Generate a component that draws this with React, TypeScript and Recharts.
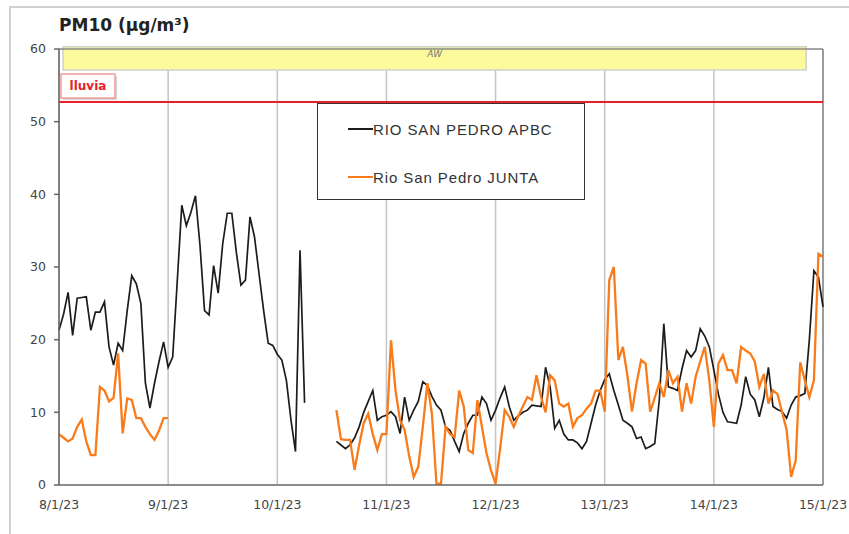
import React from "react";
import { LineChart, Line, XAxis, YAxis, CartesianGrid, ReferenceLine, ReferenceArea, Legend } from "recharts";

// hours since 8/1/23 00:00, one tick per day
const dayTicks = [0, 24, 48, 72, 96, 120, 144, 168];
const dayLabels = ["8/1/23", "9/1/23", "10/1/23", "11/1/23", "12/1/23", "13/1/23", "14/1/23", "15/1/23"];
const yTicks = [0, 10, 20, 30, 40, 50, 60];

const seriesNames = ["RIO SAN PEDRO APBC", "Rio San Pedro JUNTA"];
const seriesColors = ["#1c1c1c", "#f97c1c"];

// RIO SAN PEDRO APBC, hourly values (two pieces, gap in between)
const apbcStart1 = 0;
const apbcPart1 = [
  21.3, 23.5, 26.5, 20.6, 25.7, 25.8, 25.9, 21.3, 23.8, 23.8, 25.2, 19,
  16.5, 19.5, 18.5, 24, 28.8, 27.7, 25, 14, 10.6, 14, 17, 19.7,
  16.2, 17.6, 28, 38.5, 35.7, 37.5, 39.8, 33, 24, 23.4, 30.2, 26.4,
  33.2, 37.4, 37.4, 32, 27.5, 28.2, 36.9, 34.1, 29, 24, 19.5, 19.2,
  18, 17.2, 14.4, 9, 4.6, 32.3, 11.3,
];
const apbcStart2 = 61;
const apbcPart2 = [
  6, 5.5, 5, 5.5, 6.5, 8, 10, 11.5, 13, 8.9, 9.4, 9.6,
  10.1, 9.4, 7.1, 12.1, 8.9, 10.3, 11.5, 14.2, 13.7, 12.2, 11, 10.3,
  8, 7.5, 6, 4.6, 7.1, 8.5, 9.6, 9.6, 12.1, 11.2, 8.9, 10.3,
  12, 13.5, 10.8, 8.9, 9.5, 10, 10.3, 11, 10.9, 10.8, 16.2, 13.5,
  7.8, 8.9, 7, 6.2, 6.2, 5.8, 5, 6, 8.5, 11, 13, 14.5,
  15.3, 13, 11, 8.9, 8.5, 8, 6.4, 6.6, 5, 5.3, 5.7, 11.7,
  22.2, 13.5, 13.3, 13, 16, 18.5, 17.6, 18.5, 21.5, 20.5, 19, 15.8,
  12.5, 10, 8.7, 8.6, 8.5, 11, 14.9, 12.5, 11.7, 9.4, 12, 16.2,
  10.8, 10.4, 10.1, 9.2, 11, 12.1, 12.3, 12.6, 20, 29.5, 28.6, 24.5,
];

// Rio San Pedro JUNTA, hourly values
const juntaStart1 = 0;
const juntaPart1 = [
  7, 6.5, 6, 6.4, 8, 9, 6, 4.1, 4.1, 13.5, 13, 11.5,
  12, 18.1, 7.1, 11.9, 11.7, 9.2, 9.2, 8, 7, 6.2, 7.5, 9.2,
  9.2,
];
const juntaStart2 = 61;
const juntaPart2 = [
  10.3, 6.3, 6.2, 6.2, 2.1, 5.5, 8.5, 9.8, 7, 4.8, 7, 7,
  19.9, 13, 8.9, 7.6, 4, 1.1, 2.5, 8, 14, 9.8, 0.2, 0.2,
  8, 7, 6.6, 13, 10.8, 4.8, 4.4, 11.7, 8, 4.4, 2, 0.2,
  5, 10.3, 9.4, 8, 9.5, 10.8, 12.1, 11.7, 15.1, 12.1, 10, 15.1,
  14.4, 11.2, 10.8, 11.2, 8, 9.2, 9.6, 10.5, 11.2, 13, 13, 10.1,
  28.2, 30, 17.2, 19, 15, 10.1, 14, 17.2, 16.7, 10.1, 12, 14,
  12.1, 15.8, 14, 14.9, 10.1, 14, 11.2, 14.9, 17, 19, 14.4, 8,
  16.7, 17.9, 15.8, 15.8, 14, 19, 18.5, 18.1, 17, 13.5, 15.3, 11.2,
  13, 12.5, 10, 7.6, 1.1, 3.4, 16.9, 14.4, 12.1, 14.4, 31.8, 31.4,
];

const lluviaLevel = 52.7;
const awBand = { x1: 0.9, x2: 164.3, y1: 57.1, y2: 60.3 };

const pick = (arr: number[], start: number, h: number) =>
  h >= start && h < start + arr.length ? arr[h - start] : null;

const data = Array.from({ length: 169 }, (_, h) => ({
  h,
  apbc: pick(apbcPart1, apbcStart1, h) ?? pick(apbcPart2, apbcStart2, h),
  junta: pick(juntaPart1, juntaStart1, h) ?? pick(juntaPart2, juntaStart2, h),
}));

const LluviaLabel = (props: any) => {
  const { x, y } = props.viewBox;
  return (
    <g>
      <rect x={x + 4} y={y - 26} width={54} height={24} fill="#d8d8d8" />
      <rect x={x + 2} y={y - 28} width={54} height={24} fill="#fff" stroke="#f19a9a" strokeWidth={1.5} />
      <text x={x + 29} y={y - 12} textAnchor="middle" fill="#e8202a" fontSize={12} fontWeight="bold" fontFamily="DejaVu Sans">
        lluvia
      </text>
    </g>
  );
};

const renderLegend = () => (
  <div
    style={{
      width: 266,
      height: 95,
      border: "1px solid #333",
      background: "#fff",
      position: "relative",
      fontFamily: "'Liberation Sans', Arial, sans-serif",
      fontSize: 15,
      letterSpacing: 0.9,
      color: "#333",
    }}
  >
    {seriesNames.map((name, i) => (
      <div key={name} style={{ position: "absolute", left: 30, top: 15 + i * 48, height: 20, display: "flex", alignItems: "center" }}>
        <span style={{ display: "inline-block", width: 25, height: 2, background: seriesColors[i] }} />
        <span>{name}</span>
      </div>
    ))}
  </div>
);

export default function App() {
  return (
    <div style={{ position: "absolute", left: 0, top: 0, width: 849, height: 534, background: "#fff", overflow: "hidden" }}>
      <div style={{ position: "absolute", left: 9, top: 6, width: 900, height: 600, borderLeft: "2px solid #d2d2d2", borderTop: "2px solid #d2d2d2" }} />
      <div style={{ position: "absolute", left: 59, top: 15, fontFamily: "'DejaVu Sans', Verdana, sans-serif", fontWeight: "bold", fontSize: 17, color: "#222" }}>
        PM10 (µg/m³)
      </div>
      <div style={{ position: "absolute", left: 0, top: 0 }}>
        <LineChart width={849} height={534} data={data} margin={{ top: 49, right: 26, bottom: 19, left: 0 }}>
          <CartesianGrid horizontal={false} stroke="#c4c4c4" strokeWidth={1.5} />
          <XAxis
            type="number"
            dataKey="h"
            domain={[0, 168]}
            ticks={dayTicks}
            tickFormatter={(v: number) => dayLabels[dayTicks.indexOf(v)]}
            height={30}
            stroke="#666"
            strokeWidth={1.5}
            tickLine={false}
            tickMargin={9}
            tick={{ fill: "#444", fontSize: 12.5, fontFamily: "DejaVu Sans" }}
            interval={0}
          />
          <YAxis
            domain={[0, 60]}
            ticks={yTicks}
            width={59}
            stroke="#666"
            strokeWidth={1.5}
            tickSize={5}
            tickMargin={8}
            tick={{ fill: "#444", fontSize: 12.5, fontFamily: "DejaVu Sans" }}
          />
          <ReferenceLine x={168} stroke="#888" strokeWidth={1.5} />
          <ReferenceLine y={60} stroke="#888" strokeWidth={1.5} />
          <ReferenceArea
            x1={awBand.x1}
            x2={awBand.x2}
            y1={awBand.y1}
            y2={awBand.y2}
            ifOverflow="visible"
            fill="#fdfa9c"
            fillOpacity={1}
            stroke="#cfcfcf"
            strokeWidth={1.5}
            label={{ value: "AW", position: "insideTop", offset: 4, fill: "#777", fontSize: 9, fontStyle: "italic", fontFamily: "DejaVu Sans" }}
          />
          <ReferenceLine y={lluviaLevel} stroke="#e8202a" strokeWidth={2} label={<LluviaLabel />} />
          <Line
            type="linear"
            dataKey="apbc"
            name={seriesNames[0]}
            stroke={seriesColors[0]}
            strokeWidth={1.7}
            dot={false}
            activeDot={false}
            connectNulls={false}
            isAnimationActive={false}
          />
          <Line
            type="linear"
            dataKey="junta"
            name={seriesNames[1]}
            stroke={seriesColors[1]}
            strokeWidth={2.3}
            dot={false}
            activeDot={false}
            connectNulls={false}
            isAnimationActive={false}
          />
          <Legend
            layout="horizontal"
            verticalAlign="middle"
            align="center"
            content={renderLegend}
            wrapperStyle={{ left: 317, top: 103, width: 268, height: 97 }}
          />
        </LineChart>
      </div>
    </div>
  );
}
